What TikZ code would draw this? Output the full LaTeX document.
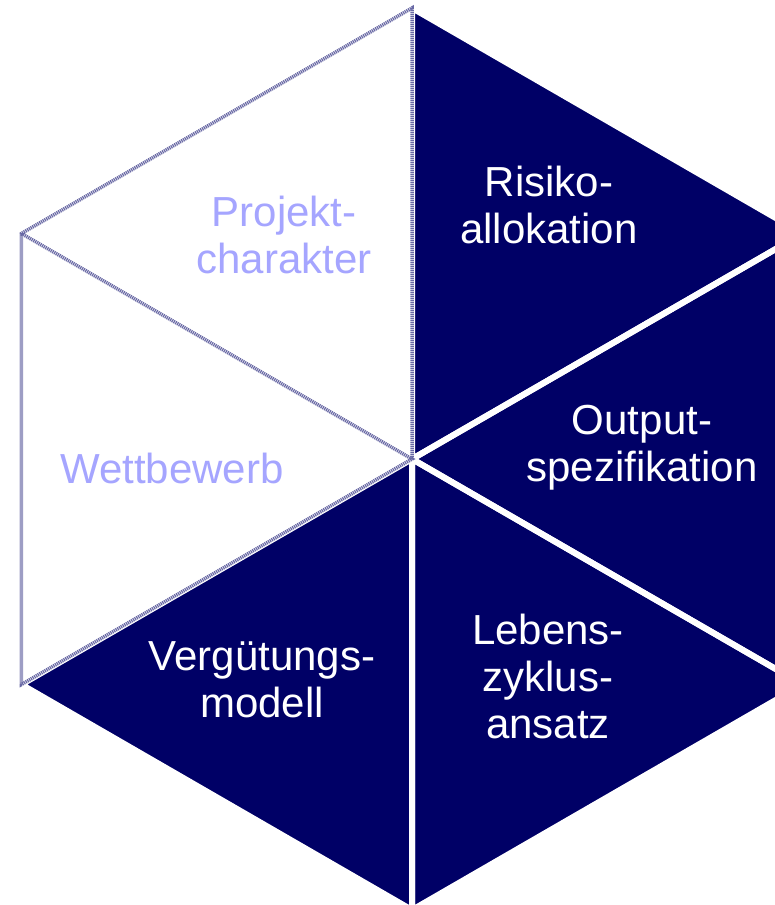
\documentclass[tikz,border=0pt]{standalone}
\usepackage{fontspec}
\setmainfont{Liberation Sans}
\definecolor{navy}{RGB}{0,0,102}
\definecolor{pale}{RGB}{165,165,255}
\definecolor{rim}{RGB}{105,105,165}
\begin{document}
\begin{tikzpicture}[x=1bp,y=-1bp,
  darkpiece/.style={fill=navy},
  gapline/.style={draw=white, line width=6bp, line join=round},
  rimline/.style={draw=rim, line width=3.5bp, dash pattern=on 1.2bp off 0.8bp},
  labeltext/.style={align=center, inner sep=0pt, font=\fontsize{42bp}{47bp}\selectfont},
  darklabel/.style={labeltext, text=white},
  palelabel/.style={labeltext, text=pale}]
\useasboundingbox (0,0) rectangle (775,905);
\clip (0,0) rectangle (775,905);
\fill[white] (0,0) rectangle (775,905);
% hexagon corners
\coordinate (C)  at (412,459);
\coordinate (T)  at (412,8);
\coordinate (UR) at (802.6,233.5);
\coordinate (LR) at (802.6,684.5);
\coordinate (B)  at (412,910);
\coordinate (LL) at (21.4,684.5);
\coordinate (UL) at (21.4,233.5);
% filled sectors
\path[darkpiece] (C) -- (T) -- (UR) -- cycle;
\path[darkpiece] (C) -- (UR) -- (LR) -- cycle;
\path[darkpiece] (C) -- (LR) -- (B) -- cycle;
\path[darkpiece] (C) -- (B) -- (LL) -- cycle;
% white gaps between filled sectors
\path[gapline] (C) -- (T) -- (UR) -- cycle;
\path[gapline] (C) -- (UR) -- (LR) -- cycle;
\path[gapline] (C) -- (LR) -- (B) -- cycle;
\path[gapline] (C) -- (B) -- (LL) -- cycle;
% outlines of the open sectors
\path[rimline] (C) -- (T) -- (UL) -- (LL) -- (C) -- (UL);
% labels
\node[darklabel]  (risk) at (549,205) {Risiko-\\allokation};
\node[darklabel]  (out)  at (642,448) {Output-\\spezifikation};
\node[darklabel]  (life) at (548,676) {Lebens-\\zyklus-\\ansatz};
\node[darklabel]  (pay)  at (262,680) {Vergütungs-\\modell};
\node[palelabel]  (proj) at (284,235) {Projekt-\\charakter};
\node[palelabel]  (comp) at (172,468) {Wettbewerb};
\end{tikzpicture}
\end{document}
